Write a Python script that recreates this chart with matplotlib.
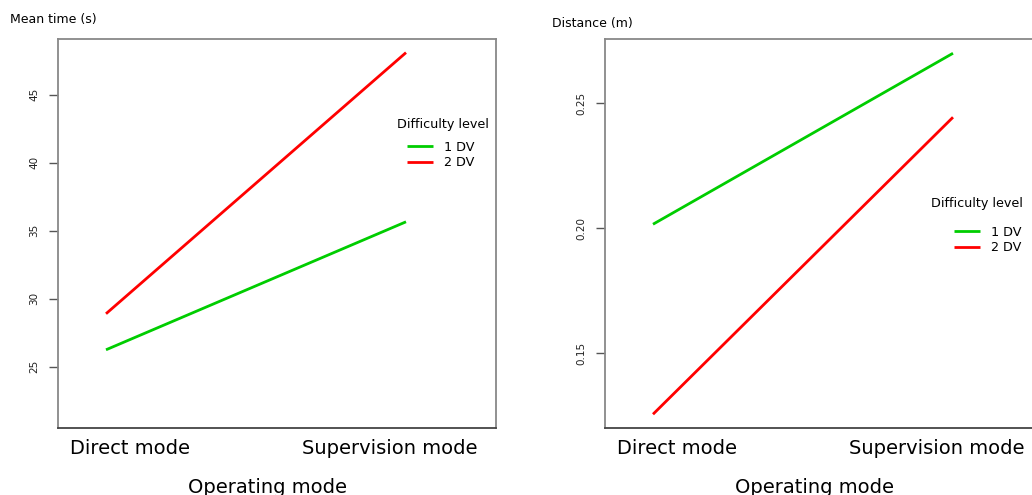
import matplotlib
matplotlib.use("Agg")
import matplotlib.pyplot as plt
from matplotlib.transforms import ScaledTranslation

plt.rcParams['font.family'] = ['DejaVu Sans']

# ---- data ----
categories = ["Direct mode", "Supervision mode"]
series_names = ["1 DV", "2 DV"]
time_1dv = [26.25, 35.66]
time_2dv = [28.9, 48.1]
dist_1dv = [0.2016, 0.2700]
dist_2dv = [0.1256, 0.2444]
time_ticks = [25, 30, 35, 40, 45]
dist_ticks = [0.15, 0.20, 0.25]
dist_tick_labels = ["0.15", "0.20", "0.25"]

GREEN = "#00CD00"
RED = "#FF0000"

W, H = 1032, 495
fig = plt.figure(figsize=(W / 100, H / 100), dpi=100)

def px_axes(left, top, right, bottom):
    return fig.add_axes([left / W, 1 - bottom / H, (right - left) / W, (bottom - top) / H])

ax1 = px_axes(58, 39, 496, 428)
ax2 = px_axes(605, 39, 1043, 428)

xpos = [1, 2]

def fx(px):
    return px / W

def fy(py):
    return 1 - py / H

def style(ax, yticks, ylabels, ylim):
    ax.set_xlim(0.84, 2.30)
    ax.set_ylim(*ylim)
    ax.set_yticks(yticks)
    ax.set_yticklabels(ylabels, rotation=90, va='center', fontsize=7.5, color='#222222')
    ax.tick_params(axis='y', length=6.5, width=1, color='#555555', pad=7)
    ax.set_xticks(xpos)
    ax.set_xticklabels(categories, fontsize=14)
    ax.tick_params(axis='x', length=0, pad=8)
    offs = [0.24, -0.16]
    for lab, dx in zip(ax.get_xticklabels(), offs):
        lab.set_transform(lab.get_transform() + ScaledTranslation(dx, 0, fig.dpi_scale_trans))
    for s in ['left', 'top', 'right']:
        ax.spines[s].set_color('#888888')
        ax.spines[s].set_linewidth(1.3)
    ax.spines['bottom'].set_color('#444444')
    ax.spines['bottom'].set_linewidth(1.3)
    ax.set_xlabel("Operating mode", fontsize=14)
    ax.xaxis.set_label_coords(0.479, -0.128)

def add_legend(ax, title_xy, title_ha, entries_xy):
    fig.text(fx(title_xy[0]), fy(title_xy[1]), "Difficulty level", fontsize=9.2,
             ha=title_ha, va='center')
    ax.legend(loc='center left', bbox_to_anchor=(fx(entries_xy[0]), fy(entries_xy[1])),
              bbox_transform=fig.transFigure,
              frameon=False, fontsize=9.2, borderpad=0, borderaxespad=0,
              handlelength=2.05, handletextpad=0.85, labelspacing=0.18)

# left panel
ax1.plot(xpos, time_1dv, color=GREEN, lw=2.0, label=series_names[0], solid_capstyle='butt')
ax1.plot(xpos, time_2dv, color=RED, lw=2.0, label=series_names[1], solid_capstyle='butt')
style(ax1, time_ticks, [str(t) for t in time_ticks], (20.5, 49.1))
add_legend(ax1, (442.5, 124), 'center', (407, 155))

# right panel
ax2.plot(xpos, dist_1dv, color=GREEN, lw=2.0, label=series_names[0], solid_capstyle='butt')
ax2.plot(xpos, dist_2dv, color=RED, lw=2.0, label=series_names[1], solid_capstyle='butt')
style(ax2, dist_ticks, dist_tick_labels, (0.1201, 0.2757))
add_legend(ax2, (1023, 204), 'right', (954, 240))

fig.text(fx(10), fy(19), "Mean time (s)", fontsize=9, va='center', ha='left')
fig.text(fx(552), fy(24), "Distance (m)", fontsize=9, va='center', ha='left')

fig.savefig("out.png", dpi=100)
